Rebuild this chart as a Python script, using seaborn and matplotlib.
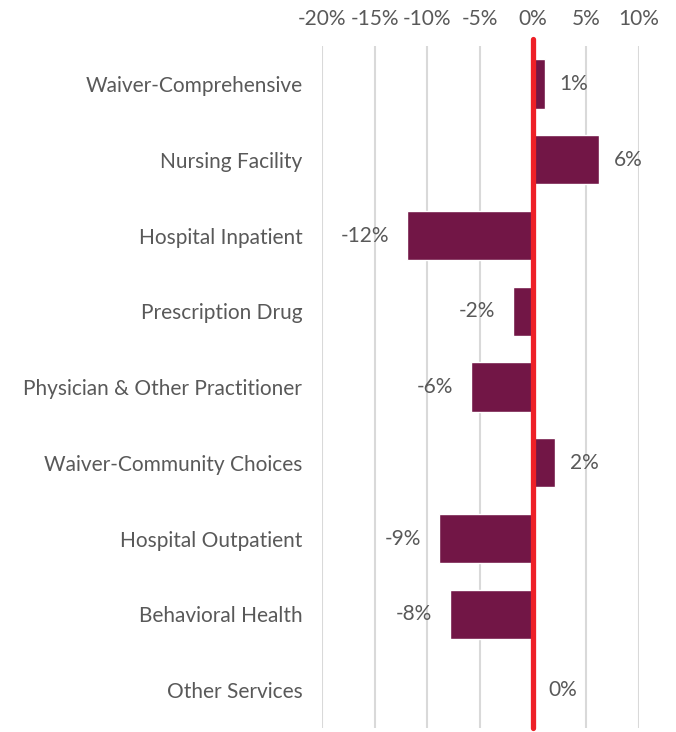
import numpy as np
import pandas as pd
import matplotlib
matplotlib.use('Agg')
import matplotlib.pyplot as plt
import seaborn as sns

categories = ['Waiver-Comprehensive', 'Nursing Facility', 'Hospital Inpatient',
              'Prescription Drug', 'Physician & Other Practitioner',
              'Waiver-Community Choices', 'Hospital Outpatient',
              'Behavioral Health', 'Other Services']
changes = [1.1, 6.2, -11.9, -1.9, -5.9, 2.1, -8.9, -7.9, 0.0]
tick_values = [-20, -15, -10, -5, 0, 5, 10]
tick_labels = ['-20%', '-15%', '-10%', '-5%', '0%', '5%', '10%']

df = pd.DataFrame({'service': categories, 'change': changes})

sns.set_style('white')
plt.rcParams['font.family'] = ['Lato', 'DejaVu Sans']

grey = '#595959'
fs = 15
fig = plt.figure(figsize=(6.76, 7.32), dpi=100)
ax = fig.add_axes([0.476, 0.0055, 0.469, 0.9315])

sns.barplot(data=df, y='service', x='change', orient='h', color='#721646',
            width=0.65, saturation=1, ax=ax, zorder=3)

ax.set_xlim(-20, 10)
ax.set_xticks(tick_values)
ax.set_xticklabels(tick_labels)
ax.xaxis.tick_top()
ax.tick_params(axis='x', length=0, pad=12, labelsize=fs, labelcolor=grey)
ax.tick_params(axis='y', length=0, pad=14, labelsize=fs, labelcolor=grey)
ax.set_xlabel('')
ax.set_ylabel('')
for s in ax.spines.values():
    s.set_visible(False)

for v in tick_values:
    if v != 0:
        ax.axvline(v, color='#d9d9d9', lw=1.5, zorder=1)
ax.axvline(0, ymin=0, ymax=1.01, color='#ee2027', lw=3.8, zorder=4, clip_on=False)

for i, v in enumerate(changes):
    lab = f'{round(v):d}%'
    if v < 0:
        ax.annotate(lab, (v, i), xytext=(-18, 0), textcoords='offset pixels',
                    ha='right', va='center', fontsize=fs, color=grey)
    else:
        ax.annotate(lab, (v, i), xytext=(15, 0), textcoords='offset pixels',
                    ha='left', va='center', fontsize=fs, color=grey)

fig.savefig('out.png', dpi=100)
